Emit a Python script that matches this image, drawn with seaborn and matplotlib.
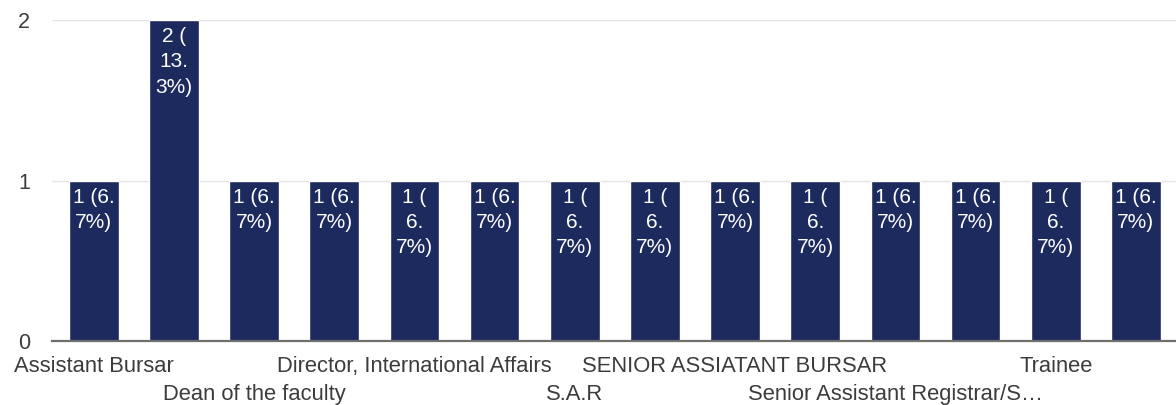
import matplotlib
matplotlib.use("Agg")
import matplotlib.pyplot as plt
from matplotlib.ticker import FixedLocator, FixedFormatter
import seaborn as sns
import pandas as pd

# Responses per designation (15 respondents in total)
counts = [1, 2, 1, 1, 1, 1, 1, 1, 1, 1, 1, 1, 1, 1]
tick_labels = [
    "Assistant Bursar", "", "Dean of the faculty", "",
    "Director, International Affairs", "", "S.A.R", "",
    "SENIOR ASSIATANT BURSAR", "", "Senior Assistant Registrar/S…", "",
    "Trainee", "",
]
# Bars whose value label wraps onto three lines instead of two
narrow_wrap = [False, True, False, False, True, False, True, True,
               False, True, False, False, True, False]

BAR_COLOR = "#1d2a5e"
TEXT_COLOR = "#3c3c3c"

sns.set_theme(style="white")
plt.rcParams["font.family"] = ["Liberation Sans", "DejaVu Sans"]

total = sum(counts)
df = pd.DataFrame({"pos": list(range(len(counts))), "count": counts})

fig = plt.figure(figsize=(11.76, 4.05), dpi=100)
ax = fig.add_axes([0.0442, 0.158, 0.9558, 0.7926])

sns.barplot(data=df, x="pos", y="count", color=BAR_COLOR, saturation=1,
            width=0.62, ax=ax, zorder=3)

ax.set_xlim(-0.52, 13.5)
ax.set_ylim(0, 2)
ax.set_xlabel("")
ax.set_ylabel("")

# Gridlines and baseline
ax.set_yticks([0, 1, 2])
ax.yaxis.grid(True, color="#e4e4e4", linewidth=1.0, zorder=0)
ax.set_axisbelow(True)
for side in ("left", "right", "top"):
    ax.spines[side].set_visible(False)
ax.spines["bottom"].set_color("#6e6e6e")
ax.spines["bottom"].set_linewidth(1.6)
ax.spines["bottom"].set_zorder(4)

# Value labels inside the bars
for patch, c, narrow in zip(ax.patches, counts, narrow_wrap):
    pct = f"{c / total * 100:.1f}"
    whole, dec = pct.split(".")
    if narrow:
        text = f"{c} (\n{whole}.\n{dec}%)"
    else:
        text = f"{c} ({whole}.\n{dec}%)"
    xc = patch.get_x() + patch.get_width() / 2
    ax.annotate(text, xy=(xc, c), xytext=(0, -7), textcoords="offset pixels",
                ha="center", va="top", color="white", fontsize=15,
                linespacing=1.42, zorder=5)

# Category labels, staggered on two rows (upper row as major ticks,
# lower row as minor ticks with a larger pad)
upper = [i for i, lab in enumerate(tick_labels) if lab and i % 4 == 0]
lower = [i for i, lab in enumerate(tick_labels) if lab and i % 4 == 2]
ax.xaxis.set_major_locator(FixedLocator(upper))
ax.xaxis.set_major_formatter(FixedFormatter([tick_labels[i] for i in upper]))
ax.xaxis.set_minor_locator(FixedLocator(lower))
ax.xaxis.set_minor_formatter(FixedFormatter([tick_labels[i] for i in lower]))
ax.tick_params(axis="x", which="major", length=0, pad=11, labelsize=15.8,
               labelcolor=TEXT_COLOR)
ax.tick_params(axis="x", which="minor", length=0, pad=31, labelsize=15.8,
               labelcolor=TEXT_COLOR)
ax.tick_params(axis="y", length=0, pad=16, labelsize=15.5, labelcolor=TEXT_COLOR)

fig.savefig("out.png", dpi=100)
